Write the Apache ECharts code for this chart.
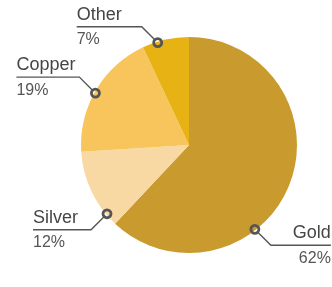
<!DOCTYPE html>
<html>
<head>
<meta charset="utf-8">
<script src="https://cdn.jsdelivr.net/npm/echarts@6/dist/echarts.min.js"></script>
<style>
  html, body { margin: 0; padding: 0; background: #fff; }
  #main { width: 332px; height: 287px; }
</style>
</head>
<body>
<div id="main"></div>
<script>
// share of each metal
const names = ['Gold', 'Silver', 'Copper', 'Other'];
const shares = [62, 12, 19, 7];
const colors = ['#C99A2E', '#F8D9A4', '#F8C45C', '#E6B214'];

// where each leader touches the pie (deg clockwise from 12 o'clock) and its flat run
const anchorDeg = [142, 230, 299, 343];
const runLen = [60, 58, 63, 65];

const cx = 189, cy = 145, r = 108, rAnchor = 107, diag = 16, dot = 4.5;
const font = '"Liberation Sans", Arial, sans-serif';

function leader(i) {
  const t = anchorDeg[i] * Math.PI / 180;
  const a = [cx + rAnchor * Math.sin(t), cy - rAnchor * Math.cos(t)];
  const sx = Math.sin(t) < 0 ? -1 : 1;
  const sy = Math.cos(t) > 0 ? -1 : 1;
  const b = [a[0] + sx * diag, a[1] + sy * diag];
  const e = [b[0] + sx * runLen[i], b[1]];
  const k = dot / (diag * Math.SQRT2);
  const s = [a[0] + (b[0] - a[0]) * k, a[1] + (b[1] - a[1]) * k];
  return { a, b, e, s, sx };
}

const chart = echarts.init(document.getElementById('main'));

const pieData = names.map((n, i) => ({ name: n, value: shares[i], itemStyle: { color: colors[i] } }));

chart.setOption({
  animation: false,
  series: [
    {
      type: 'pie',
      center: [cx, cy],
      radius: r,
      startAngle: 90,
      clockwise: true,
      avoidLabelOverlap: false,
      silent: true,
      data: pieData,
      label: {
        show: true,
        position: 'outside',
        formatter: '{n|{b}}\n{p|{d}%}',
        rich: {
          n: { fontSize: 18, color: '#454545', lineHeight: 24, fontFamily: font },
          p: { fontSize: 16, color: '#555', lineHeight: 26, fontFamily: font }
        }
      },
      labelLine: { show: true, lineStyle: { color: '#555', width: 1.4 } },
      labelLayout: function (p) {
        const L = leader(p.dataIndex);
        return {
          x: L.e[0],
          y: L.e[1] + 1,
          align: L.sx < 0 ? 'left' : 'right',
          verticalAlign: 'middle',
          labelLinePoints: [L.s, L.b, L.e]
        };
      }
    },
    {
      // hollow dots at the leader ends
      type: 'pie',
      center: [cx, cy],
      radius: r,
      startAngle: 90,
      clockwise: true,
      silent: true,
      data: names.map((n, i) => ({ name: n, value: shares[i] })),
      itemStyle: { color: 'rgba(0,0,0,0)' },
      label: {
        show: true,
        position: 'inside',
        formatter: '{c|}',
        rich: {
          c: { width: 8, height: 8, borderRadius: 5, borderWidth: 1.4, borderColor: '#555', backgroundColor: 'rgba(0,0,0,0)' }
        }
      },
      labelLine: { show: false },
      labelLayout: function (p) {
        const L = leader(p.dataIndex);
        return { x: L.a[0], y: L.a[1], align: 'center', verticalAlign: 'middle' };
      }
    }
  ]
});
</script>
</body>
</html>
